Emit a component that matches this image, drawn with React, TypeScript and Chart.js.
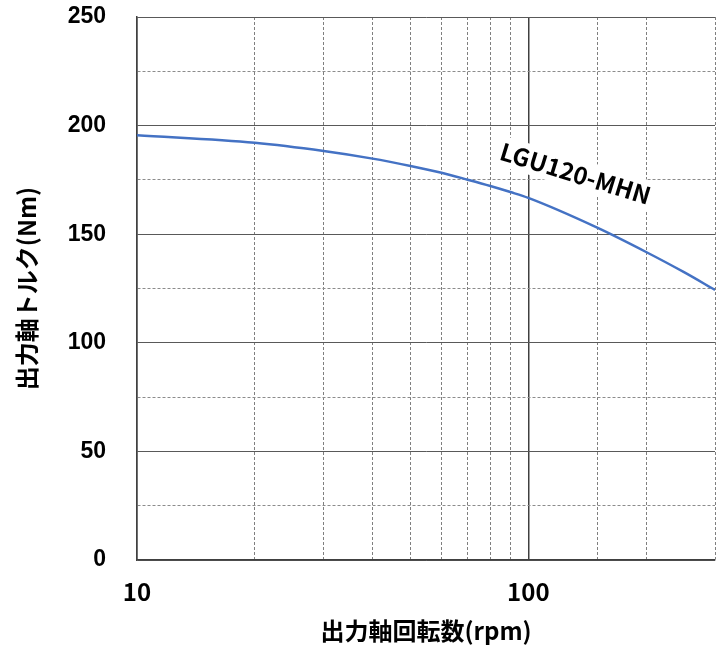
import React, { useEffect, useRef } from "react";
import { Chart, registerables } from "chart.js";

Chart.register(...registerables);

// ---- data ----
const rpm = [10, 20, 30, 40, 50, 60, 70, 80, 90, 100, 150, 200, 250, 300];
const torque = [195.6, 192.1, 188.3, 184.8, 181.4, 178.3, 175.1, 172.2, 169.4, 166.7, 153.0, 141.8, 132.5, 124.3];
const xLabeledTicks = [10, 100];
const yLabelStep = 50;
const seriesName = "LGU120-MHN";
const xTitle = "出力軸回転数(rpm)";
const yTitle = "出力軸トルク(Nm)";
const seriesLabelAt = { x: 132, y: 178 };

const CJK = "'Noto Sans CJK JP', 'Noto Sans', sans-serif";

const seriesLabelPlugin = {
  id: "seriesLabel",
  afterDatasetsDraw(chart: any) {
    const { ctx, scales } = chart;
    const px = scales.x.getPixelForValue(seriesLabelAt.x);
    const py = scales.y.getPixelForValue(seriesLabelAt.y);
    ctx.save();
    ctx.translate(px, py);
    ctx.rotate((17 * Math.PI) / 180);
    ctx.font = `bold 24px ${CJK}`;
    const w = ctx.measureText(seriesName).width;
    ctx.fillStyle = "#ffffff";
    ctx.fillRect(-w / 2 - 3, -15, w + 6, 30);
    ctx.fillStyle = "#000000";
    ctx.textAlign = "center";
    ctx.textBaseline = "middle";
    ctx.fillText(seriesName, 0, 0);
    ctx.restore();
  },
};

export default function App() {
  const ref = useRef<HTMLCanvasElement | null>(null);

  useEffect(() => {
    if (!ref.current) return;
    const chart = new Chart(ref.current, {
      type: "line",
      data: {
        datasets: [
          {
            label: seriesName,
            data: rpm.map((r, i) => ({ x: r, y: torque[i] })),
            borderColor: "#4472C4",
            borderWidth: 2.5,
            pointRadius: 0,
            fill: false,
            cubicInterpolationMode: "monotone",
          },
        ],
      },
      options: {
        responsive: false,
        animation: false,
        devicePixelRatio: 1,
        layout: { padding: { top: 17, right: 7, left: 0, bottom: 0 } },
        plugins: { legend: { display: false }, tooltip: { enabled: false } },
        scales: {
          x: {
            type: "logarithmic",
            min: 10,
            max: 300,
            afterFit: (s: any) => {
              s.height = 87;
            },
            grid: {
              drawTicks: true,
              tickLength: 17,
              tickColor: "rgba(0,0,0,0)",
              color: (c: any) =>
                c.tick && xLabeledTicks.includes(c.tick.value) ? "#404040" : "#7f7f7f",
              lineWidth: (c: any) =>
                c.tick && xLabeledTicks.includes(c.tick.value) ? 1.5 : 1,
            },
            border: {
              color: "#404040",
              width: 1.5,
              dash: (c: any) =>
                c.tick && !xLabeledTicks.includes(c.tick.value) ? [3, 2] : [],
            },
            ticks: {
              autoSkip: false,
              maxRotation: 0,
              padding: 0,
              color: "#000",
              font: { family: CJK, size: 24, weight: "bold" },
              callback: (v: any) => (xLabeledTicks.includes(Number(v)) ? String(v) : ""),
            },
            title: {
              display: true,
              text: xTitle,
              color: "#000",
              font: { family: CJK, size: 24, weight: "bold" },
              padding: { top: 0, bottom: 2 },
            },
          },
          y: {
            type: "linear",
            min: 0,
            max: 250,
            afterFit: (s: any) => {
              s.width = 137;
            },
            grid: {
              drawTicks: true,
              tickLength: 31,
              tickColor: "rgba(0,0,0,0)",
              color: (c: any) =>
                c.tick && c.tick.value % yLabelStep === 0 ? "#595959" : "#8c8c8c",
              lineWidth: 1,
            },
            border: {
              color: "#404040",
              width: 1.5,
              dash: (c: any) =>
                c.tick && c.tick.value % yLabelStep !== 0 ? [3, 2] : [],
            },
            ticks: {
              stepSize: 25,
              autoSkip: false,
              padding: 0,
              color: "#000",
              font: { family: "'Liberation Sans', Arial, sans-serif", size: 23, weight: "bold" },
              callback: (v: any) => (Number(v) % yLabelStep === 0 ? String(v) : ""),
            },
            title: {
              display: true,
              text: yTitle,
              color: "#000",
              font: { family: CJK, size: 24, weight: "bold" },
              padding: { top: 12, bottom: 0 },
            },
          },
        },
      },
      plugins: [seriesLabelPlugin],
    } as any);
    return () => chart.destroy();
  }, []);

  return (
    <div style={{ position: "absolute", left: 0, top: 0, width: 722, height: 647, background: "#fff" }}>
      <canvas ref={ref} width={722} height={647} style={{ width: 722, height: 647 }} />
    </div>
  );
}
